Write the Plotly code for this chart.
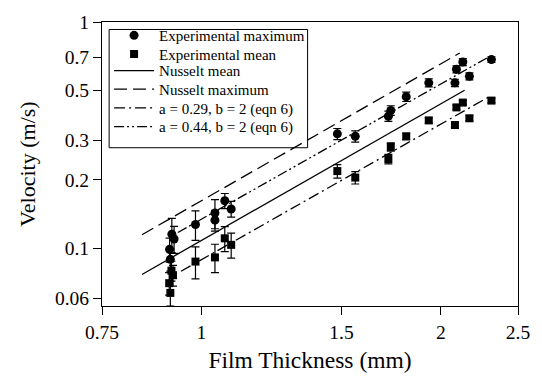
import plotly.graph_objects as go

# ---- data ----
h_max = [0.912, 0.914, 0.918, 0.924, 0.983, 1.040, 1.040, 1.070, 1.090, 1.482, 1.561,
         1.718, 1.730, 1.809, 1.931, 2.083, 2.092, 2.131, 2.172, 2.315]
v_max = [0.0987, 0.0891, 0.1152, 0.1096, 0.1271, 0.1427, 0.1328, 0.1618, 0.1489, 0.320, 0.312,
         0.383, 0.406, 0.467, 0.538, 0.538, 0.618, 0.665, 0.575, 0.682]
err_max = [0.012, 0.010, 0.020, 0.015, 0.019, 0.021, 0.014, 0.0125, 0.012, 0.018, 0.018,
           0.020, 0.020, 0.022, 0.022, 0.020, 0.022, 0.024, 0.020, 0.020]

h_mean = [0.911, 0.914, 0.917, 0.921, 0.983, 1.040, 1.070, 1.090, 1.482, 1.561,
          1.718, 1.730, 1.809, 1.931, 2.083, 2.092, 2.131, 2.172, 2.315]
v_mean = [0.0699, 0.0633, 0.0794, 0.0758, 0.0871, 0.0909, 0.1104, 0.1033, 0.219, 0.205,
          0.2475, 0.280, 0.312, 0.367, 0.350, 0.419, 0.440, 0.375, 0.449]
err_mean = [0.008, 0.008, 0.008, 0.008, 0.014, 0.013, 0.014, 0.013, 0.015, 0.013,
            0.012, 0.012, 0.010, 0.010, 0.010, 0.010, 0.010, 0.010, 0.010]

# model lines (end points)
h_nus_mean = [0.842, 2.142]
v_nus_mean = [0.0764, 0.499]
h_nus_max = [0.842, 2.112]
v_nus_max = [0.1145, 0.729]
h_a029 = [0.9427, 2.308]
v_a029 = [0.0789, 0.4705]
h_a044 = [0.934, 2.286]
v_a044 = [0.1171, 0.694]

x_ticks = [0.75, 1, 1.5, 2, 2.5]
x_labels = ["0.75", "1", "1.5", "2", "2.5"]
y_ticks = [0.06, 0.1, 0.2, 0.3, 0.5, 0.7, 1]
y_labels = ["0.06", "0.1", "0.2", "0.3", "0.5", "0.7", "1"]

FONT = "Liberation Serif, Times New Roman, serif"

fig = go.Figure()

fig.add_trace(go.Scatter(
    x=h_max, y=v_max, mode="markers", name="Experimental maximum", legend="legend",
    marker=dict(symbol="circle", size=9, color="black"),
    error_y=dict(type="data", array=err_max, visible=True, color="black", thickness=1.2, width=4),
))
fig.add_trace(go.Scatter(
    x=h_mean, y=v_mean, mode="markers", name="Experimental mean", legend="legend2",
    marker=dict(symbol="square", size=8, color="black"),
    error_y=dict(type="data", array=err_mean, visible=True, color="black", thickness=1.2, width=4),
))
fig.add_trace(go.Scatter(
    x=h_nus_mean, y=v_nus_mean, mode="lines", name="Nusselt mean", legend="legend3",
    line=dict(color="black", width=1.3, dash="solid"),
))
fig.add_trace(go.Scatter(
    x=h_nus_max, y=v_nus_max, mode="lines", name="Nusselt maximum", legend="legend4",
    line=dict(color="black", width=1.3, dash="13px,6px"),
))
fig.add_trace(go.Scatter(
    x=h_a029, y=v_a029, mode="lines", name="a = 0.29, b = 2 (eqn 6)", legend="legend5",
    line=dict(color="black", width=1.3, dash="11px,4px,2px,4px"),
))
fig.add_trace(go.Scatter(
    x=h_a044, y=v_a044, mode="lines", name="a = 0.44, b = 2 (eqn 6)", legend="legend6",
    line=dict(color="black", width=1.3, dash="10px,3px,2px,3px,2px,3px"),
))

axis_common = dict(
    type="log", showline=True, linecolor="black", linewidth=1.2, mirror=True,
    ticks="outside", ticklen=8, tickwidth=1.2, tickcolor="black",
    showgrid=False, zeroline=False,
    tickfont=dict(family=FONT, size=19.5, color="black"),
)

row_y = [0.9522, 0.8867, 0.8280, 0.7625, 0.6969, 0.6307]
legends = {}
for i, yy in enumerate(row_y):
    key = "legend" if i == 0 else f"legend{i+1}"
    legends[key] = dict(
        x=0.017, y=yy, xanchor="left", yanchor="middle",
        borderwidth=0, bgcolor="rgba(0,0,0,0)", itemwidth=40,
        font=dict(family=FONT, size=15, color="black"),
    )

fig.update_layout(
    width=542, height=382,
    margin=dict(l=102, r=12, t=13, b=76),
    paper_bgcolor="white", plot_bgcolor="white",
    font=dict(family=FONT, color="black"),
    showlegend=True,
    **legends,
    shapes=[dict(type="rect", xref="paper", yref="paper",
                 x0=0.0171, x1=0.4942, y0=0.5573, y1=0.9737,
                 line=dict(color="black", width=1), fillcolor="white", layer="below")],
    xaxis=dict(
        **axis_common,
        range=[-0.12494, 0.39794],
        tickvals=x_ticks, ticktext=x_labels,
        title=dict(text="Film Thickness (mm)", font=dict(family=FONT, size=23.5, color="black"), standoff=10),
    ),
    yaxis=dict(
        **axis_common,
        range=[-1.2565, 0.0],
        tickvals=y_ticks, ticktext=y_labels,
        title=dict(text="Velocity (m/s)", font=dict(family=FONT, size=22, color="black"), standoff=13),
    ),
)

fig.write_html("out.html")
